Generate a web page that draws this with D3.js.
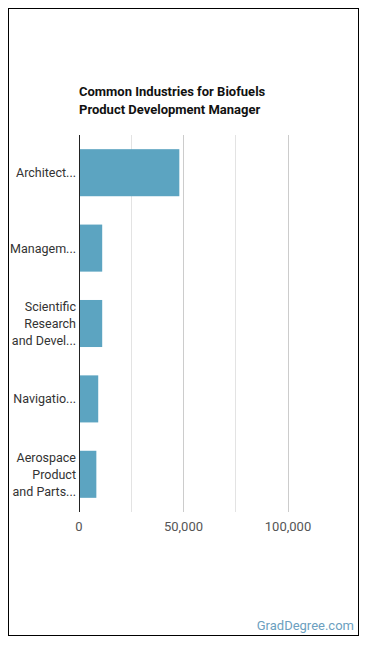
<!DOCTYPE html>
<html><head><meta charset="utf-8">
<script src="https://cdn.jsdelivr.net/npm/d3@7"></script>
<style>body{margin:0;background:#fff}svg{display:block}</style>
</head><body>
<script>
const categories = [["Architect..."],["Managem..."],["Scientific","Research","and Devel..."],["Navigatio..."],["Aerospace","Product","and Parts..."]];
const values = [48000, 11100, 11100, 9200, 8300];
const majorTicks = [0, 50000, 100000];
const minorTicks = [25000, 75000];
const titleLines = ["Common Industries for Biofuels","Product Development Manager"];

const W = 370, H = 648;
const svg = d3.select("body").append("svg").attr("width", W).attr("height", H);
svg.append("rect").attr("x",8.5).attr("y",8.5).attr("width",350).attr("height",627)
  .attr("fill","#fff").attr("stroke","#000").attr("stroke-width",1);

const x = d3.scaleLinear().domain([0, 100000]).range([79, 288]);
const y = d3.scaleBand().domain(d3.range(categories.length)).range([135, 512]).paddingInner(0.376).paddingOuter(0.188);

svg.selectAll("text.title").data(titleLines).join("text")
  .attr("x",79).attr("y",(d,i)=>96+i*18).attr("font-family","Roboto").attr("font-weight","bold")
  .attr("font-size",13).attr("fill","#111").text(d=>d);

svg.selectAll("line.minor").data(minorTicks).join("line")
  .attr("x1",d=>x(d)).attr("x2",d=>x(d)).attr("y1",135).attr("y2",512)
  .attr("stroke","#e3e3e3").attr("shape-rendering","crispEdges");
svg.selectAll("line.major").data(majorTicks.slice(1)).join("line")
  .attr("x1",d=>x(d)).attr("x2",d=>x(d)).attr("y1",135).attr("y2",512)
  .attr("stroke","#cccccc").attr("shape-rendering","crispEdges");

svg.selectAll("rect.bar").data(values).join("rect")
  .attr("x",x(0)).attr("y",(d,i)=>y(i)).attr("width",d=>x(d)-x(0)).attr("height",y.bandwidth())
  .attr("fill","#5ca4c1");

svg.append("line").attr("x1",x(0)).attr("x2",x(0)).attr("y1",135).attr("y2",512)
  .attr("stroke","#222").attr("shape-rendering","crispEdges");

categories.forEach((lines,i)=>{
  const cy = y(i)+y.bandwidth()/2;
  const lh = 17;
  const t = svg.append("text").attr("text-anchor","end").attr("font-family","Roboto")
    .attr("font-size",12.5).attr("fill","#333");
  lines.forEach((l,j)=>{
    t.append("tspan").attr("x",76).attr("y",cy + (j-(lines.length-1)/2)*lh + 4.5).text(l);
  });
});

svg.selectAll("text.tick").data(majorTicks).join("text")
  .attr("x",d=>x(d)).attr("y",531).attr("text-anchor","middle").attr("font-family","Roboto")
  .attr("font-size",13).attr("fill","#555").text(d=>d3.format(",")(d));

svg.append("text").attr("x",354).attr("y",630).attr("text-anchor","end").attr("font-family","Roboto")
  .attr("font-size",13).attr("fill","#6c9fc0").text("GradDegree.com");
</script>
</body></html>
